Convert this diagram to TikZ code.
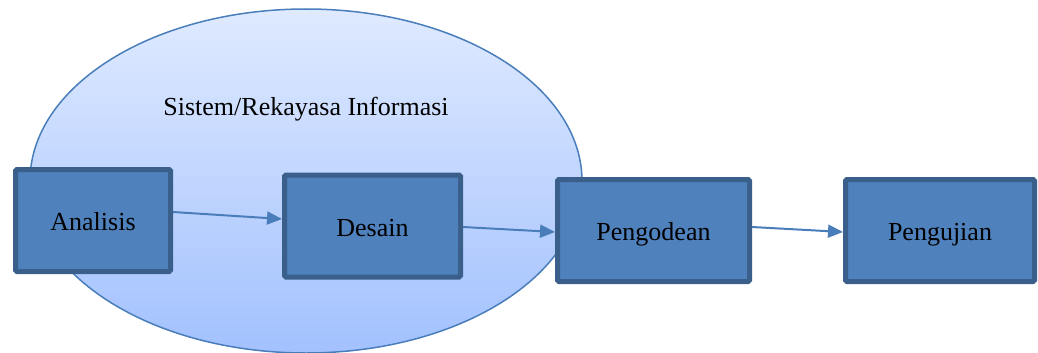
\documentclass[tikz,border=0pt]{standalone}
\usepackage{fontspec}
\setmainfont{Liberation Serif}
\usetikzlibrary{shapes.geometric,arrows.meta}
\definecolor{boxfill}{HTML}{4F81BD}
\definecolor{boxline}{HTML}{3A5F8B}
\definecolor{arrowcol}{HTML}{4A7EBB}
\definecolor{ovaltop}{HTML}{DFEAFF}
\definecolor{ovalbot}{HTML}{A2C1FE}
\definecolor{ovalline}{HTML}{4A7EBB}
\tikzset{
  stagebox/.style={draw=boxline, fill=boxfill, line width=5pt, rounded corners=1.5pt,
    minimum height=102pt, inner sep=0pt, text height=20pt, text depth=0pt,
    font=\fontsize{26}{30}\selectfont, text=black},
  flow/.style={draw=arrowcol, line width=2pt, -{Triangle[length=15pt,width=13pt]}},
}
\begin{document}
\begin{tikzpicture}[x=1pt,y=-1pt]
  \useasboundingbox (0,0) rectangle (1038,353);
  % information system oval
  \node[ellipse, draw=ovalline, line width=1.5pt, top color=ovaltop, bottom color=ovalbot,
        minimum width=552pt, minimum height=344pt, inner sep=0pt] (sys) at (306,181) {};
  \node[font=\fontsize{26}{30}\selectfont, anchor=base] (syslabel) at (306,115) {Sistem/Rekayasa Informasi};
  % stages
  \node[stagebox, minimum width=155pt] (an) at (93,220.5) {Analisis};
  \node[stagebox, minimum width=176pt] (de) at (372.5,226) {Desain};
  \node[stagebox, minimum width=192pt] (pg) at (653.5,230.5) {Pengodean};
  \node[stagebox, minimum width=189pt] (pj) at (940,230.5) {Pengujian};
  % flow between stages
  \draw[flow] ([yshift=8.5pt]an.east) -- ([yshift=7pt]de.west);
  \draw[flow] ([yshift=-1pt]de.east) -- ([yshift=-1.5pt]pg.west);
  \draw[flow] ([yshift=3.5pt]pg.east) -- ([yshift=-1.5pt]pj.west);
\end{tikzpicture}
\end{document}
